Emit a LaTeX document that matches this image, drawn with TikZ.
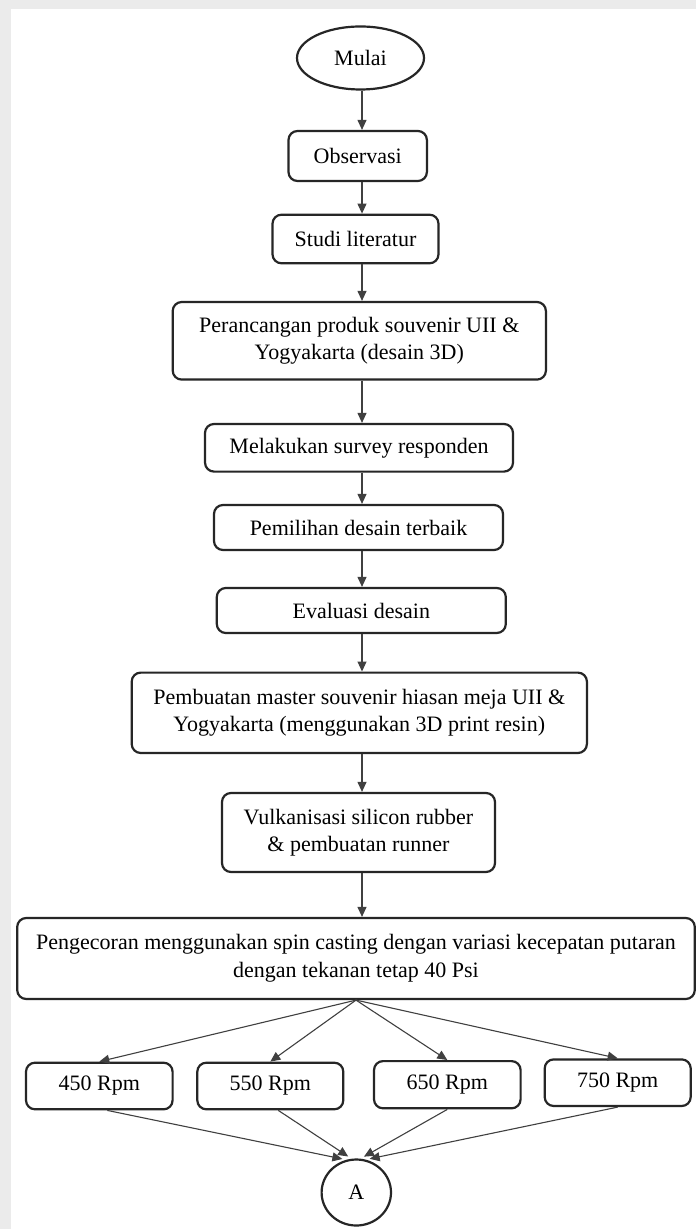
\documentclass[tikz,border=0pt]{standalone}
\usepackage{fontspec}
\setmainfont{Liberation Serif}
\usetikzlibrary{arrows.meta,shapes.geometric}

\tikzset{
  proses/.style={draw=black!85, line width=1.1pt, rounded corners=4.5pt, align=center,
    inner sep=0pt, font=\fontsize{11}{13.8}\selectfont},
  terminal/.style={proses, ellipse, rounded corners=0pt},
  panah/.style={-{Triangle[length=5pt,width=4.5pt]}, draw=black!75, line width=0.55pt},
}

\begin{document}
\begin{tikzpicture}[x=0.5pt,y=-0.5pt]
% latar
\fill[black!8] (0,0) rectangle (696,1229);
\fill[white] (11,9.5) rectangle (696,1229);
\useasboundingbox (0,0) rectangle (696,1229);

\node[terminal, minimum width=63.5pt, minimum height=31.5pt] (mulai) at (360.5,58) {Mulai};
\node[proses, minimum width=69.2pt, minimum height=25pt] (obs) at (357.7,156) {Observasi};
\node[proses, minimum width=83pt, minimum height=24.3pt] (studi) at (355.5,239) {Studi literatur};
\node[proses, minimum width=186.6pt, minimum height=38.8pt] (rancang) at (359.3,340.8)
  {Perancangan produk souvenir UII \&\\Yogyakarta (desain 3D)};
\node[proses, minimum width=154pt, minimum height=23.8pt] (survey) at (359,447.8) {Melakukan survey responden};
\node[proses, minimum width=144.5pt, minimum height=22.5pt] (pilih) at (358.5,527.5) {Pemilihan desain terbaik};
\node[proses, minimum width=144.5pt, minimum height=22.5pt] (eval) at (361.3,610.5) {Evaluasi desain};
\node[proses, minimum width=227.6pt, minimum height=40.2pt] (master) at (359.3,712.8)
  {Pembuatan master souvenir hiasan meja UII \&\\Yogyakarta (menggunakan 3D print resin)};
\node[proses, minimum width=136.5pt, minimum height=39.5pt] (vulkan) at (358.5,832.5)
  {Vulkanisasi silicon rubber\\\& pembuatan runner};
\node[proses, minimum width=338.8pt, minimum height=40.5pt] (cor) at (356,958.5)
  {Pengecoran menggunakan spin casting dengan variasi kecepatan putaran\\dengan tekanan tetap 40 Psi};

\node[proses, minimum width=73.3pt, minimum height=23.3pt] (r450) at (99.3,1086) {450 Rpm};
\node[proses, minimum width=73pt, minimum height=23.3pt] (r550) at (270.3,1086) {550 Rpm};
\node[proses, minimum width=73.3pt, minimum height=23.6pt] (r650) at (447.3,1084.7) {650 Rpm};
\node[proses, minimum width=73pt, minimum height=23.3pt] (r750) at (617.7,1082.7) {750 Rpm};

\node[terminal, minimum width=34.7pt, minimum height=33pt] (A) at (356.3,1192.5) {A};

% alur utama
\coordinate (poros) at (362,0);
\foreach \a/\b in {mulai/obs, obs/studi, studi/rancang, rancang/survey, survey/pilih,
                   pilih/eval, eval/master, master/vulkan, vulkan/cor}
  \draw[panah] (\a.south -| poros) -- (\b.north -| poros);

% variasi putaran
\foreach \r in {r450,r550,r650,r750}
  \draw[panah] (cor.south) -- (\r.north);

\draw[panah, shorten >=2pt] ([xshift=4pt]r450.south) -- (A.107);
\draw[panah, shorten >=2pt] ([xshift=4pt]r550.south) -- (A.98);
\draw[panah, shorten >=2pt] (r650.south) -- (A.83);
\draw[panah, shorten >=2pt] (r750.south) -- (A.74);
\end{tikzpicture}
\end{document}
